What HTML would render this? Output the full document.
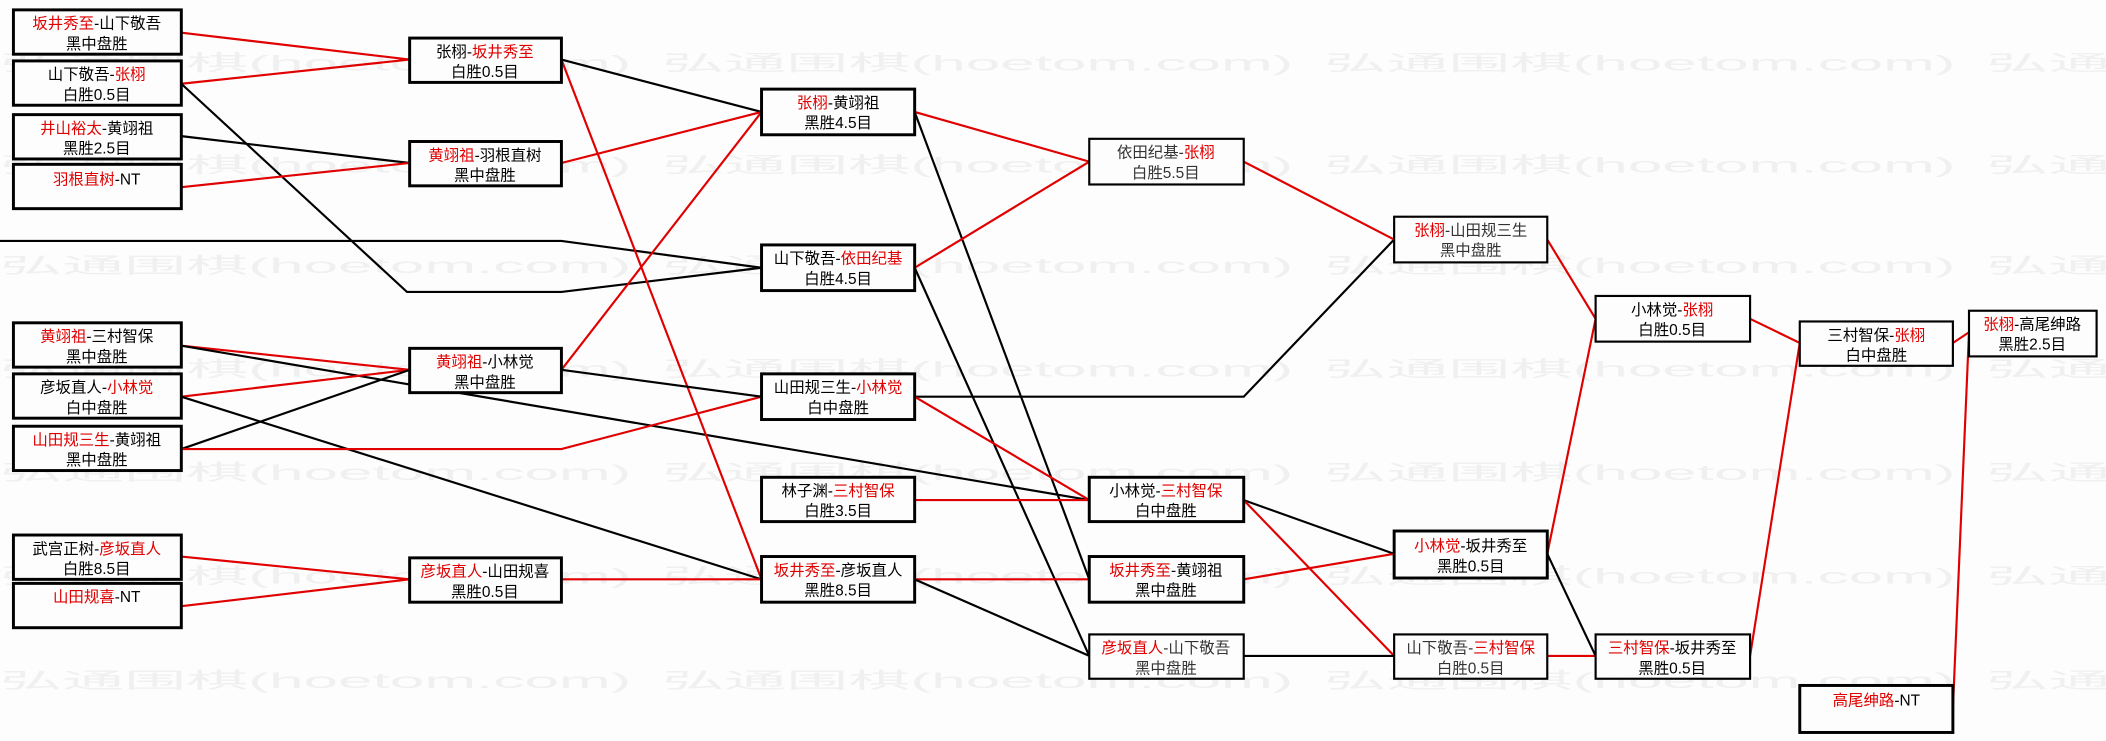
<!DOCTYPE html>
<html><head><meta charset="utf-8"><style>
html,body{margin:0;padding:0;background:#fdfdfd;}
svg{display:block;}
text{font-family:"Liberation Sans","Noto Sans CJK SC","WenQuanYi Zen Hei",sans-serif;}
.t{font-size:11.5px;fill:#000;text-anchor:middle;}
.g{fill:#333;}
.r{fill:#e00000;}
.wm text{font-size:50px;fill:#f0f0f0;font-family:"Liberation Mono","Noto Serif CJK SC",serif;}
</style></head><body>
<svg width="2106" height="741" viewBox="0 0 1568 551" xmlns="http://www.w3.org/2000/svg">
<rect width="1568" height="551" fill="#fdfdfd"/>
<defs>
<g id="row"><text x="0" y="0" textLength="470" lengthAdjust="spacingAndGlyphs">弘通围棋(hoetom.com)</text><text x="493" y="0" textLength="470" lengthAdjust="spacingAndGlyphs">弘通围棋(hoetom.com)</text><text x="986" y="0" textLength="470" lengthAdjust="spacingAndGlyphs">弘通围棋(hoetom.com)</text><text x="1479" y="0" textLength="470" lengthAdjust="spacingAndGlyphs">弘通围棋(hoetom.com)</text></g>
</defs>
<g class="wm" fill="#f0f0f0">
<use href="#row" y="52"/>
<use href="#row" y="128"/>
<use href="#row" y="203"/>
<use href="#row" y="280"/>
<use href="#row" y="357"/>
<use href="#row" y="434"/>
<use href="#row" y="512"/>
</g>
<g fill="none" stroke-width="1.6">
<polyline points="135,24 305,44" stroke="#e00000"/>
<polyline points="135,62 305,44" stroke="#e00000"/>
<polyline points="135,62 303,217 418,217 567,199" stroke="#000"/>
<polyline points="0,179 418,179 567,199" stroke="#000"/>
<polyline points="135,101 305,121" stroke="#000"/>
<polyline points="135,139 305,121" stroke="#e00000"/>
<polyline points="135,257 305,275" stroke="#e00000"/>
<polyline points="135,257 811,372" stroke="#000"/>
<polyline points="135,295 305,275" stroke="#e00000"/>
<polyline points="135,295 567,431" stroke="#000"/>
<polyline points="135,334 305,275" stroke="#000"/>
<polyline points="135,334 418,334 567,295" stroke="#e00000"/>
<polyline points="135,414 305,431" stroke="#e00000"/>
<polyline points="135,451 305,431" stroke="#e00000"/>
<polyline points="418,44 567,83" stroke="#000"/>
<polyline points="418,44 567,431" stroke="#e00000"/>
<polyline points="418,121 567,83" stroke="#e00000"/>
<polyline points="418,275 567,83" stroke="#e00000"/>
<polyline points="418,275 567,295" stroke="#000"/>
<polyline points="418,431 567,431" stroke="#e00000"/>
<polyline points="681,83 811,120" stroke="#e00000"/>
<polyline points="681,83 811,431" stroke="#000"/>
<polyline points="681,199 811,120" stroke="#e00000"/>
<polyline points="681,199 811,488" stroke="#000"/>
<polyline points="681,295 926,295 1038,178" stroke="#000"/>
<polyline points="681,295 811,372" stroke="#e00000"/>
<polyline points="681,372 811,372" stroke="#e00000"/>
<polyline points="681,431 811,431" stroke="#e00000"/>
<polyline points="681,431 811,488" stroke="#000"/>
<polyline points="926,120 1038,178" stroke="#e00000"/>
<polyline points="926,372 1038,412" stroke="#000"/>
<polyline points="926,372 1038,488" stroke="#e00000"/>
<polyline points="926,431 1038,412" stroke="#e00000"/>
<polyline points="926,488 1038,488" stroke="#000"/>
<polyline points="1152,178 1188,237" stroke="#e00000"/>
<polyline points="1152,412 1188,237" stroke="#e00000"/>
<polyline points="1152,412 1188,488" stroke="#000"/>
<polyline points="1152,488 1188,488" stroke="#e00000"/>
<polyline points="1303,237 1340,255" stroke="#e00000"/>
<polyline points="1303,488 1340,255" stroke="#e00000"/>
<polyline points="1454,255 1466,247" stroke="#e00000"/>
<polyline points="1454,527 1466,247" stroke="#e00000"/>
</g>
<g fill="#fdfdfd" stroke="#000">
<g stroke-width="2.2">
<rect x="10" y="7" width="125" height="33"/>
<rect x="10" y="45" width="125" height="33"/>
<rect x="10" y="85" width="125" height="33"/>
<rect x="10" y="122" width="125" height="33"/>
<rect x="10" y="240" width="125" height="33"/>
<rect x="10" y="278" width="125" height="33"/>
<rect x="10" y="317" width="125" height="33"/>
<rect x="10" y="398" width="125" height="33"/>
<rect x="10" y="434" width="125" height="33"/>
<rect x="305" y="28" width="113" height="33"/>
<rect x="305" y="105" width="113" height="33"/>
<rect x="305" y="259" width="113" height="33"/>
<rect x="305" y="415" width="113" height="33"/>
<rect x="567" y="66" width="114" height="34"/>
<rect x="567" y="182" width="114" height="34"/>
<rect x="567" y="278" width="114" height="34"/>
<rect x="567" y="355" width="114" height="33"/>
<rect x="567" y="414" width="114" height="34"/>
<rect x="811" y="355" width="115" height="33"/>
<rect x="811" y="414" width="115" height="34"/>
<rect x="1038" y="395" width="114" height="35"/>
<rect x="1340" y="510" width="114" height="35"/>
</g>
<g stroke-width="1.6">
<rect x="811" y="103" width="115" height="34"/>
<rect x="811" y="472" width="115" height="33"/>
<rect x="1038" y="161" width="114" height="34"/>
<rect x="1038" y="472" width="114" height="33"/>
<rect x="1188" y="220" width="115" height="34"/>
<rect x="1188" y="472" width="115" height="33"/>
<rect x="1340" y="239" width="114" height="33"/>
<rect x="1466" y="231" width="95" height="34"/>
</g>
</g>
<g class="t">
<text x="72" y="21"><tspan class="r">坂井秀至</tspan>-山下敬吾</text><text x="72" y="36">黑中盘胜</text>
<text x="72" y="59">山下敬吾-<tspan class="r">张栩</tspan></text><text x="72" y="74">白胜0.5目</text>
<text x="72" y="99"><tspan class="r">井山裕太</tspan>-黄翊祖</text><text x="72" y="114">黑胜2.5目</text>
<text x="72" y="137"><tspan class="r">羽根直树</tspan>-NT</text>
<text x="72" y="254"><tspan class="r">黄翊祖</tspan>-三村智保</text><text x="72" y="269">黑中盘胜</text>
<text x="72" y="292">彦坂直人-<tspan class="r">小林觉</tspan></text><text x="72" y="307">白中盘胜</text>
<text x="72" y="331"><tspan class="r">山田规三生</tspan>-黄翊祖</text><text x="72" y="346">黑中盘胜</text>
<text x="72" y="412">武宫正树-<tspan class="r">彦坂直人</tspan></text><text x="72" y="427">白胜8.5目</text>
<text x="72" y="448"><tspan class="r">山田规喜</tspan>-NT</text>
<text x="361" y="42">张栩-<tspan class="r">坂井秀至</tspan></text><text x="361" y="57">白胜0.5目</text>
<text x="361" y="119"><tspan class="r">黄翊祖</tspan>-羽根直树</text><text x="361" y="134">黑中盘胜</text>
<text x="361" y="273"><tspan class="r">黄翊祖</tspan>-小林觉</text><text x="361" y="288">黑中盘胜</text>
<text x="361" y="429"><tspan class="r">彦坂直人</tspan>-山田规喜</text><text x="361" y="444">黑胜0.5目</text>
<text x="624" y="80"><tspan class="r">张栩</tspan>-黄翊祖</text><text x="624" y="95">黑胜4.5目</text>
<text x="624" y="196">山下敬吾-<tspan class="r">依田纪基</tspan></text><text x="624" y="211">白胜4.5目</text>
<text x="624" y="292">山田规三生-<tspan class="r">小林觉</tspan></text><text x="624" y="307">白中盘胜</text>
<text x="624" y="369">林子渊-<tspan class="r">三村智保</tspan></text><text x="624" y="384">白胜3.5目</text>
<text x="624" y="428"><tspan class="r">坂井秀至</tspan>-彦坂直人</text><text x="624" y="443">黑胜8.5目</text>
<text x="868" y="117" class="g">依田纪基-<tspan class="r">张栩</tspan></text><text x="868" y="132" class="g">白胜5.5目</text>
<text x="868" y="369">小林觉-<tspan class="r">三村智保</tspan></text><text x="868" y="384">白中盘胜</text>
<text x="868" y="428"><tspan class="r">坂井秀至</tspan>-黄翊祖</text><text x="868" y="443">黑中盘胜</text>
<text x="868" y="486" class="g"><tspan class="r">彦坂直人</tspan>-山下敬吾</text><text x="868" y="501" class="g">黑中盘胜</text>
<text x="1095" y="175" class="g"><tspan class="r">张栩</tspan>-山田规三生</text><text x="1095" y="190" class="g">黑中盘胜</text>
<text x="1095" y="410"><tspan class="r">小林觉</tspan>-坂井秀至</text><text x="1095" y="425">黑胜0.5目</text>
<text x="1095" y="486" class="g">山下敬吾-<tspan class="r">三村智保</tspan></text><text x="1095" y="501" class="g">白胜0.5目</text>
<text x="1245" y="234">小林觉-<tspan class="r">张栩</tspan></text><text x="1245" y="249">白胜0.5目</text>
<text x="1245" y="486"><tspan class="r">三村智保</tspan>-坂井秀至</text><text x="1245" y="501">黑胜0.5目</text>
<text x="1397" y="253">三村智保-<tspan class="r">张栩</tspan></text><text x="1397" y="268">白中盘胜</text>
<text x="1397" y="525"><tspan class="r">高尾绅路</tspan>-NT</text>
<text x="1513" y="245"><tspan class="r">张栩</tspan>-高尾绅路</text><text x="1513" y="260">黑胜2.5目</text>
</g>
</svg>
</body></html>
